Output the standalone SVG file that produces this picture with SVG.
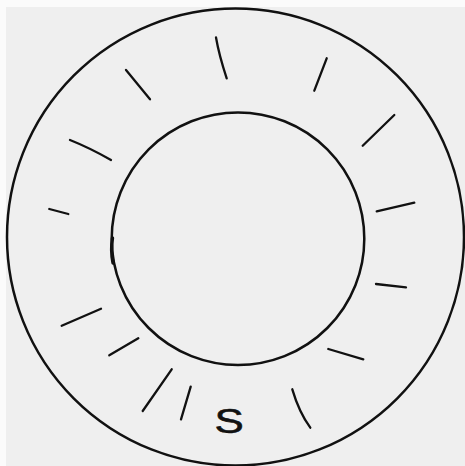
<svg xmlns="http://www.w3.org/2000/svg" width="465" height="466" viewBox="0 0 465 466">
  <defs>
    <style>
      .ring { fill: none; stroke: #111; stroke-width: 2.5; }
      .tick { fill: none; stroke: #111; stroke-width: 2.3; stroke-linecap: round; }
      .lbl { font-family: "Liberation Sans", Arial, sans-serif; font-size: 36px; fill: #111; stroke: #111; stroke-width: 0.6; }
    </style>
  </defs>
  <rect x="0" y="0" width="465" height="466" fill="#fbfbfb"/>
  <rect x="6" y="7" width="459" height="459" fill="#efefef"/>
  <g id="outer-circle">
    <circle class="ring" cx="235.5" cy="237" r="228.5"/>
  </g>
  <g id="inner-circle">
    <circle class="ring" cx="238" cy="238.7" r="126.3"/>
    <path d="M112.5 238 Q110.5 250 113 263" fill="none" stroke="#111" stroke-width="3.4" stroke-linecap="round"/>
  </g>
  <g id="ticks">
    <path class="tick" d="M216 37.5 Q219 55 226.7 78.3"/>
    <path class="tick" d="M126 70 L150 99.3"/>
    <path class="tick" d="M326.7 58.3 L314.3 90.7"/>
    <path class="tick" d="M394.3 115 L362.7 145.7"/>
    <path class="tick" d="M70 140 Q90 148 111 160" stroke-width="2.6"/>
    <path class="tick" d="M49.3 209 L68.3 214" stroke-width="2.6"/>
    <path class="tick" d="M414.3 202.7 L376.7 211.3"/>
    <path class="tick" d="M376 284 L406 287.3"/>
    <path class="tick" d="M61.7 325.7 L101 308.7"/>
    <path class="tick" d="M109.3 355.3 L138.3 338.3"/>
    <path class="tick" d="M328.3 349 L363.3 359.3"/>
    <path class="tick" d="M171.7 369.3 L142.7 411"/>
    <path class="tick" d="M190.7 386.7 L181 419.3"/>
    <path class="tick" d="M292.3 389.3 Q299 412 310.3 427.7"/>
  </g>
  <g id="label-s">
    <text class="lbl" x="0" y="0" transform="translate(214.5 432.5) scale(1.22 1)">S</text>
  </g>
</svg>
